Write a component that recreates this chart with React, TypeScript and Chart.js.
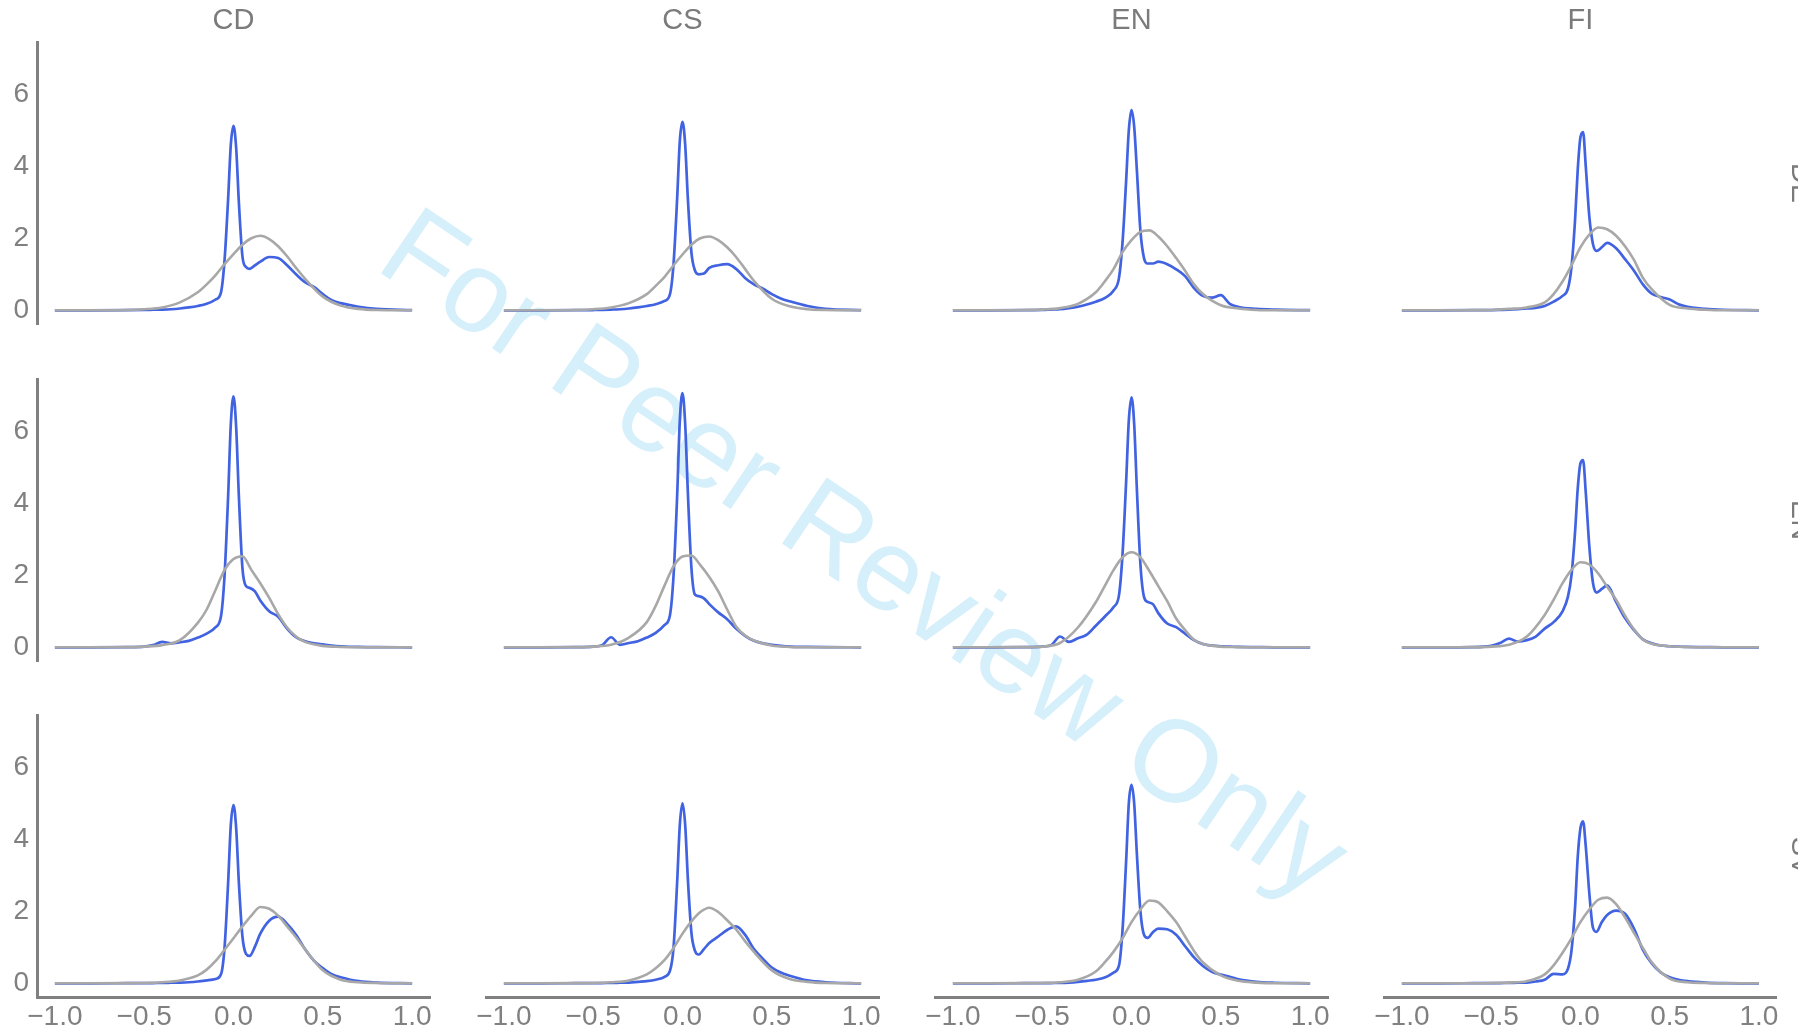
import React, { useEffect, useRef } from "react";
import { Chart, registerables } from "chart.js";

Chart.register(...registerables);

// ---------- data ----------
const COLUMNS = ["CD", "CS", "EN", "FI"];
const ROWS = ["DE", "EN", "SV"];
const X_TICKS = [-1, -0.5, 0, 0.5, 1];
const Y_TICKS = [0, 2, 4, 6];

const BLUE_X = [-1, -0.8, -0.6, -0.5, -0.45, -0.4, -0.35, -0.3, -0.25, -0.2, -0.15, -0.1, -0.07, -0.05, -0.03, -0.015, 0, 0.015, 0.03, 0.05, 0.07, 0.09, 0.12, 0.15, 0.2, 0.25, 0.3, 0.35, 0.4, 0.45, 0.5, 0.55, 0.6, 0.7, 0.8, 1.0];
const GRAY_X = [-1, -0.8, -0.6, -0.5, -0.4, -0.3, -0.2, -0.15, -0.1, -0.05, 0, 0.05, 0.1, 0.15, 0.2, 0.25, 0.3, 0.35, 0.4, 0.5, 0.6, 0.7, 0.8, 1.0];

const BLUE_DE_CD = [0, 0, 0.005, 0.01, 0.015, 0.02, 0.03, 0.05, 0.08, 0.12, 0.18, 0.3, 0.5, 1.4, 3.1, 4.6, 5.12, 4.5, 3.0, 1.5, 1.2, 1.15, 1.25, 1.35, 1.48, 1.45, 1.25, 1.0, 0.78, 0.65, 0.45, 0.28, 0.2, 0.1, 0.04, 0.005];
const BLUE_DE_CS = [0, 0, 0.003, 0.008, 0.012, 0.02, 0.03, 0.05, 0.08, 0.12, 0.17, 0.26, 0.45, 1.3, 3.1, 4.7, 5.23, 4.6, 3.1, 1.6, 1.1, 1.0, 1.02, 1.18, 1.25, 1.28, 1.15, 0.9, 0.72, 0.6, 0.45, 0.33, 0.25, 0.12, 0.04, 0.005];
const BLUE_DE_EN = [0, 0, 0.005, 0.01, 0.02, 0.03, 0.06, 0.1, 0.16, 0.24, 0.34, 0.55, 0.9, 1.9, 3.6, 5.0, 5.56, 5.1, 3.9, 2.2, 1.45, 1.3, 1.3, 1.35, 1.28, 1.14, 0.95, 0.62, 0.4, 0.35, 0.42, 0.18, 0.09, 0.04, 0.02, 0.003];
const BLUE_DE_FI = [0, 0, 0.003, 0.006, 0.01, 0.015, 0.03, 0.05, 0.07, 0.12, 0.24, 0.4, 0.6, 1.2, 2.5, 3.9, 4.8, 4.95, 4.0, 2.6, 1.85, 1.65, 1.75, 1.87, 1.72, 1.42, 1.1, 0.72, 0.46, 0.37, 0.3, 0.17, 0.1, 0.04, 0.015, 0];

const BLUE_EN_CD = [0, 0, 0.005, 0.02, 0.06, 0.15, 0.11, 0.14, 0.18, 0.27, 0.38, 0.56, 0.86, 2.0, 4.2, 6.2, 6.97, 6.1, 4.2, 2.2, 1.7, 1.65, 1.55, 1.3, 1.0, 0.85, 0.52, 0.28, 0.17, 0.11, 0.08, 0.05, 0.03, 0.01, 0.005, 0];
const BLUE_EN_CS = [0, 0, 0.005, 0.02, 0.06, 0.28, 0.07, 0.12, 0.17, 0.27, 0.4, 0.62, 0.9, 2.0, 4.2, 6.3, 7.06, 6.2, 4.3, 2.2, 1.46, 1.42, 1.36, 1.2, 0.97, 0.78, 0.52, 0.32, 0.18, 0.11, 0.07, 0.04, 0.02, 0.01, 0.005, 0];
const BLUE_EN_EN = [0, 0, 0.005, 0.02, 0.06, 0.3, 0.15, 0.25, 0.35, 0.6, 0.85, 1.12, 1.45, 2.6, 4.6, 6.3, 6.94, 6.2, 4.4, 2.3, 1.4, 1.26, 1.2, 0.95, 0.66, 0.56, 0.38, 0.2, 0.09, 0.05, 0.03, 0.02, 0.01, 0.005, 0, 0];
const BLUE_EN_FI = [0, 0, 0.005, 0.04, 0.12, 0.24, 0.16, 0.2, 0.3, 0.52, 0.7, 1.0, 1.4, 2.0, 3.2, 4.4, 5.1, 5.2, 4.3, 2.8, 1.8, 1.52, 1.62, 1.72, 1.26, 0.81, 0.48, 0.22, 0.11, 0.05, 0.03, 0.02, 0.01, 0.005, 0, 0];

const BLUE_SV_CD = [0, 0, 0.003, 0.005, 0.008, 0.01, 0.015, 0.02, 0.03, 0.05, 0.08, 0.12, 0.25, 1.0, 2.8, 4.4, 4.95, 4.3, 2.8, 1.3, 0.82, 0.76, 1.02, 1.38, 1.74, 1.85, 1.65, 1.35, 0.95, 0.63, 0.42, 0.25, 0.17, 0.06, 0.02, 0];
const BLUE_SV_CS = [0, 0, 0.003, 0.005, 0.008, 0.01, 0.015, 0.02, 0.04, 0.06, 0.1, 0.18, 0.35, 1.0, 2.8, 4.4, 5.0, 4.4, 2.9, 1.4, 0.9, 0.8, 0.95, 1.12, 1.3, 1.48, 1.58, 1.35, 0.95, 0.68, 0.44, 0.3, 0.21, 0.08, 0.03, 0];
const BLUE_SV_EN = [0, 0, 0.003, 0.005, 0.008, 0.01, 0.02, 0.04, 0.07, 0.1, 0.16, 0.3, 0.5, 1.5, 3.4, 5.0, 5.51, 5.0, 3.6, 2.0, 1.35, 1.26, 1.42, 1.52, 1.5, 1.35, 1.03, 0.72, 0.48, 0.32, 0.24, 0.18, 0.11, 0.04, 0.015, 0];
const BLUE_SV_FI = [0, 0, 0.003, 0.005, 0.008, 0.01, 0.015, 0.02, 0.05, 0.1, 0.26, 0.25, 0.4, 0.9, 2.1, 3.5, 4.3, 4.5, 3.8, 2.5, 1.55, 1.43, 1.7, 1.9, 2.02, 1.93, 1.52, 0.93, 0.55, 0.3, 0.17, 0.1, 0.06, 0.02, 0.005, 0];

const GRAY_DE_CD = [0, 0, 0.01, 0.03, 0.08, 0.22, 0.5, 0.72, 0.98, 1.28, 1.56, 1.82, 2.0, 2.07, 1.98, 1.78, 1.5, 1.18, 0.88, 0.38, 0.13, 0.04, 0.01, 0];
const GRAY_DE_CS = [0, 0, 0.01, 0.03, 0.08, 0.2, 0.45, 0.68, 0.93, 1.25, 1.55, 1.82, 2.0, 2.05, 1.95, 1.75, 1.48, 1.15, 0.82, 0.32, 0.11, 0.03, 0.01, 0];
const GRAY_DE_EN = [0, 0, 0.01, 0.02, 0.06, 0.18, 0.5, 0.8, 1.15, 1.62, 1.95, 2.18, 2.22, 2.05, 1.78, 1.45, 1.1, 0.72, 0.45, 0.14, 0.05, 0.01, 0, 0];
const GRAY_DE_FI = [0, 0, 0.005, 0.01, 0.04, 0.08, 0.22, 0.45, 0.8, 1.25, 1.75, 2.1, 2.3, 2.25, 2.07, 1.78, 1.4, 0.9, 0.58, 0.15, 0.05, 0.015, 0, 0];

const GRAY_EN_CD = [0, 0, 0.005, 0.02, 0.06, 0.2, 0.68, 1.05, 1.6, 2.15, 2.45, 2.53, 2.15, 1.78, 1.37, 0.92, 0.55, 0.3, 0.15, 0.04, 0.01, 0, 0, 0];
const GRAY_EN_CS = [0, 0, 0.005, 0.02, 0.07, 0.27, 0.7, 1.15, 1.72, 2.25, 2.52, 2.55, 2.28, 1.95, 1.55, 1.05, 0.58, 0.33, 0.19, 0.05, 0.01, 0, 0, 0];
const GRAY_EN_EN = [0, 0, 0.005, 0.02, 0.12, 0.55, 1.25, 1.7, 2.15, 2.5, 2.64, 2.5, 2.12, 1.7, 1.28, 0.8, 0.48, 0.21, 0.09, 0.02, 0.005, 0, 0, 0];
const GRAY_EN_FI = [0, 0, 0.005, 0.02, 0.07, 0.3, 0.9, 1.32, 1.78, 2.15, 2.36, 2.3, 2.05, 1.68, 1.32, 0.88, 0.5, 0.22, 0.1, 0.03, 0.01, 0, 0, 0];

const GRAY_SV_CD = [0, 0, 0.005, 0.01, 0.03, 0.08, 0.22, 0.38, 0.62, 0.93, 1.25, 1.58, 1.88, 2.12, 2.07, 1.88, 1.58, 1.28, 0.95, 0.36, 0.1, 0.03, 0.01, 0];
const GRAY_SV_CS = [0, 0, 0.005, 0.01, 0.03, 0.08, 0.25, 0.42, 0.65, 0.98, 1.38, 1.72, 1.98, 2.1, 1.98, 1.75, 1.5, 1.17, 0.87, 0.36, 0.12, 0.04, 0.01, 0];
const GRAY_SV_EN = [0, 0, 0.005, 0.01, 0.03, 0.1, 0.33, 0.58, 0.88, 1.25, 1.7, 2.05, 2.3, 2.25, 2.0, 1.7, 1.3, 0.9, 0.58, 0.22, 0.07, 0.02, 0, 0];
const GRAY_SV_FI = [0, 0, 0.003, 0.005, 0.02, 0.06, 0.25, 0.5, 0.85, 1.25, 1.7, 2.05, 2.32, 2.38, 2.2, 1.83, 1.4, 0.98, 0.58, 0.13, 0.03, 0.01, 0, 0];

const BLUE_SERIES = [
  [BLUE_DE_CD, BLUE_DE_CS, BLUE_DE_EN, BLUE_DE_FI],
  [BLUE_EN_CD, BLUE_EN_CS, BLUE_EN_EN, BLUE_EN_FI],
  [BLUE_SV_CD, BLUE_SV_CS, BLUE_SV_EN, BLUE_SV_FI],
];
const GRAY_SERIES = [
  [GRAY_DE_CD, GRAY_DE_CS, GRAY_DE_EN, GRAY_DE_FI],
  [GRAY_EN_CD, GRAY_EN_CS, GRAY_EN_EN, GRAY_EN_FI],
  [GRAY_SV_CD, GRAY_SV_CS, GRAY_SV_EN, GRAY_SV_FI],
];

// ---------- layout / style ----------
const FONT = "'Liberation Sans', Arial, Helvetica, sans-serif";
const AXIS_GRAY = "#808080";
const TEXT_GRAY = "#7b7b7b";
const BLUE = "#4163e1";
const GRAY = "#a8a8a8";
const PLOT_LEFT0 = 37;
const COL_STEP = 449;
const PLOT_W = 393;
const PLOT_TOP0 = 42;
const ROW_STEP = 336.5;
const PLOT_H = 282;
const PAD = 40;
const YW = 37;
const XH = 37;
const TITLE_SIZE = 29;
const TICK_SIZE = 28;
const TITLE_LH = TITLE_SIZE * 1.2;
const TITLE_PT = 21 - TITLE_LH / 2;
const TITLE_PB = PLOT_TOP0 - TITLE_LH - TITLE_PT;
const SUB_PB = 22.8 - TITLE_LH / 2;
const SUB_W = TITLE_LH + SUB_PB;

function fmtX(v: number) {
  const s = Math.abs(v).toFixed(1);
  return v < 0 ? "\u2212" + s : s;
}

function Panel({ r, c }: { r: number; c: number }) {
  const ref = useRef<HTMLCanvasElement | null>(null);
  const plotLeft = PLOT_LEFT0 + c * COL_STEP;
  const plotTop = Math.round(PLOT_TOP0 + r * ROW_STEP);
  const leftExtra = PAD + (c === 0 ? YW : 0);
  const rightExtra = c === 3 ? SUB_W : PAD;
  const topExtra = r === 0 ? PLOT_TOP0 : PAD;
  const bottomExtra = PAD + (r === 2 ? XH : 0);
  const width = Math.round(leftExtra + PLOT_W + rightExtra);
  const height = Math.round(topExtra + PLOT_H + bottomExtra);
  const left = plotLeft - leftExtra;
  const top = plotTop - topExtra;
  const showX = r === 2;
  const showY = c === 0;

  useEffect(() => {
    const canvas = ref.current;
    if (!canvas) return;
    const blue = BLUE_SERIES[r][c];
    const gray = GRAY_SERIES[r][c];
    const chart = new Chart(canvas, {
      type: "line",
      data: {
        datasets: [
          {
            data: GRAY_X.map((x, i) => ({ x, y: gray[i] })),
            borderColor: GRAY,
            borderWidth: 2.6,
            pointRadius: 0,
            fill: false,
            cubicInterpolationMode: "monotone",
          },
          {
            data: BLUE_X.map((x, i) => ({ x, y: blue[i] })),
            borderColor: BLUE,
            borderWidth: 2.7,
            pointRadius: 0,
            fill: false,
            cubicInterpolationMode: "monotone",
          },
        ],
      },
      options: {
        animation: false,
        responsive: false,
        events: [],
        layout: {
          padding: {
            left: PAD,
            right: c === 3 ? 0 : PAD,
            top: r === 0 ? 0 : PAD,
            bottom: PAD,
          },
        },
        plugins: {
          legend: { display: false },
          tooltip: { enabled: false },
          title: {
            display: r === 0,
            text: COLUMNS[c],
            fullSize: false,
            color: TEXT_GRAY,
            font: { family: FONT, size: TITLE_SIZE, weight: "normal", lineHeight: 1.2 },
            padding: { top: TITLE_PT, bottom: TITLE_PB },
          },
          subtitle: {
            display: c === 3,
            position: "right",
            text: ROWS[r],
            fullSize: false,
            color: TEXT_GRAY,
            font: { family: FONT, size: TITLE_SIZE, weight: "normal", lineHeight: 1.2 },
            padding: { top: 0, bottom: SUB_PB },
          },
        },
        scales: {
          x: {
            type: "linear",
            min: -1.1,
            max: 1.1,
            display: showX,
            grid: { display: false, drawTicks: false },
            border: { display: true, color: AXIS_GRAY, width: 3 },
            ticks: {
              autoSkip: false,
              maxRotation: 0,
              minRotation: 0,
              padding: 3,
              color: AXIS_GRAY,
              font: { family: FONT, size: TICK_SIZE },
              callback: (v: any) => fmtX(Number(v)),
            },
            afterBuildTicks: (s: any) => {
              s.ticks = X_TICKS.map((value) => ({ value }));
            },
            afterFit: (s: any) => {
              if (showX) s.height = XH;
            },
          },
          y: {
            type: "linear",
            min: -0.38,
            max: 7.45,
            display: showY,
            grid: { display: false, drawTicks: false },
            border: { display: true, color: AXIS_GRAY, width: 3 },
            ticks: {
              padding: 8,
              color: AXIS_GRAY,
              font: { family: FONT, size: TICK_SIZE },
              callback: (v: any) => String(v),
            },
            afterBuildTicks: (s: any) => {
              s.ticks = Y_TICKS.map((value) => ({ value }));
            },
            afterFit: (s: any) => {
              if (showY) s.width = YW;
            },
          },
        },
      },
    } as any);
    return () => chart.destroy();
  }, [r, c]);

  return (
    <canvas
      ref={ref}
      width={width}
      height={height}
      style={{ position: "absolute", left, top, width, height }}
    />
  );
}

export default function App() {
  const panels = [];
  for (let r = 0; r < ROWS.length; r++) {
    for (let c = 0; c < COLUMNS.length; c++) {
      panels.push(<Panel key={r + "-" + c} r={r} c={c} />);
    }
  }
  return (
    <div
      style={{
        position: "absolute",
        left: 0,
        top: 0,
        width: 1798,
        height: 1033,
        overflow: "hidden",
        background: "#ffffff",
      }}
    >
      <div
        style={{
          position: "absolute",
          left: 866,
          top: 552,
          transform: "translate(-50%, -50%) rotate(34deg)",
          fontFamily: FONT,
          fontSize: 116,
          lineHeight: 1,
          color: "#d5effb",
          whiteSpace: "nowrap",
          pointerEvents: "none",
        }}
      >
        For Peer Review Only
      </div>
      {panels}
    </div>
  );
}
